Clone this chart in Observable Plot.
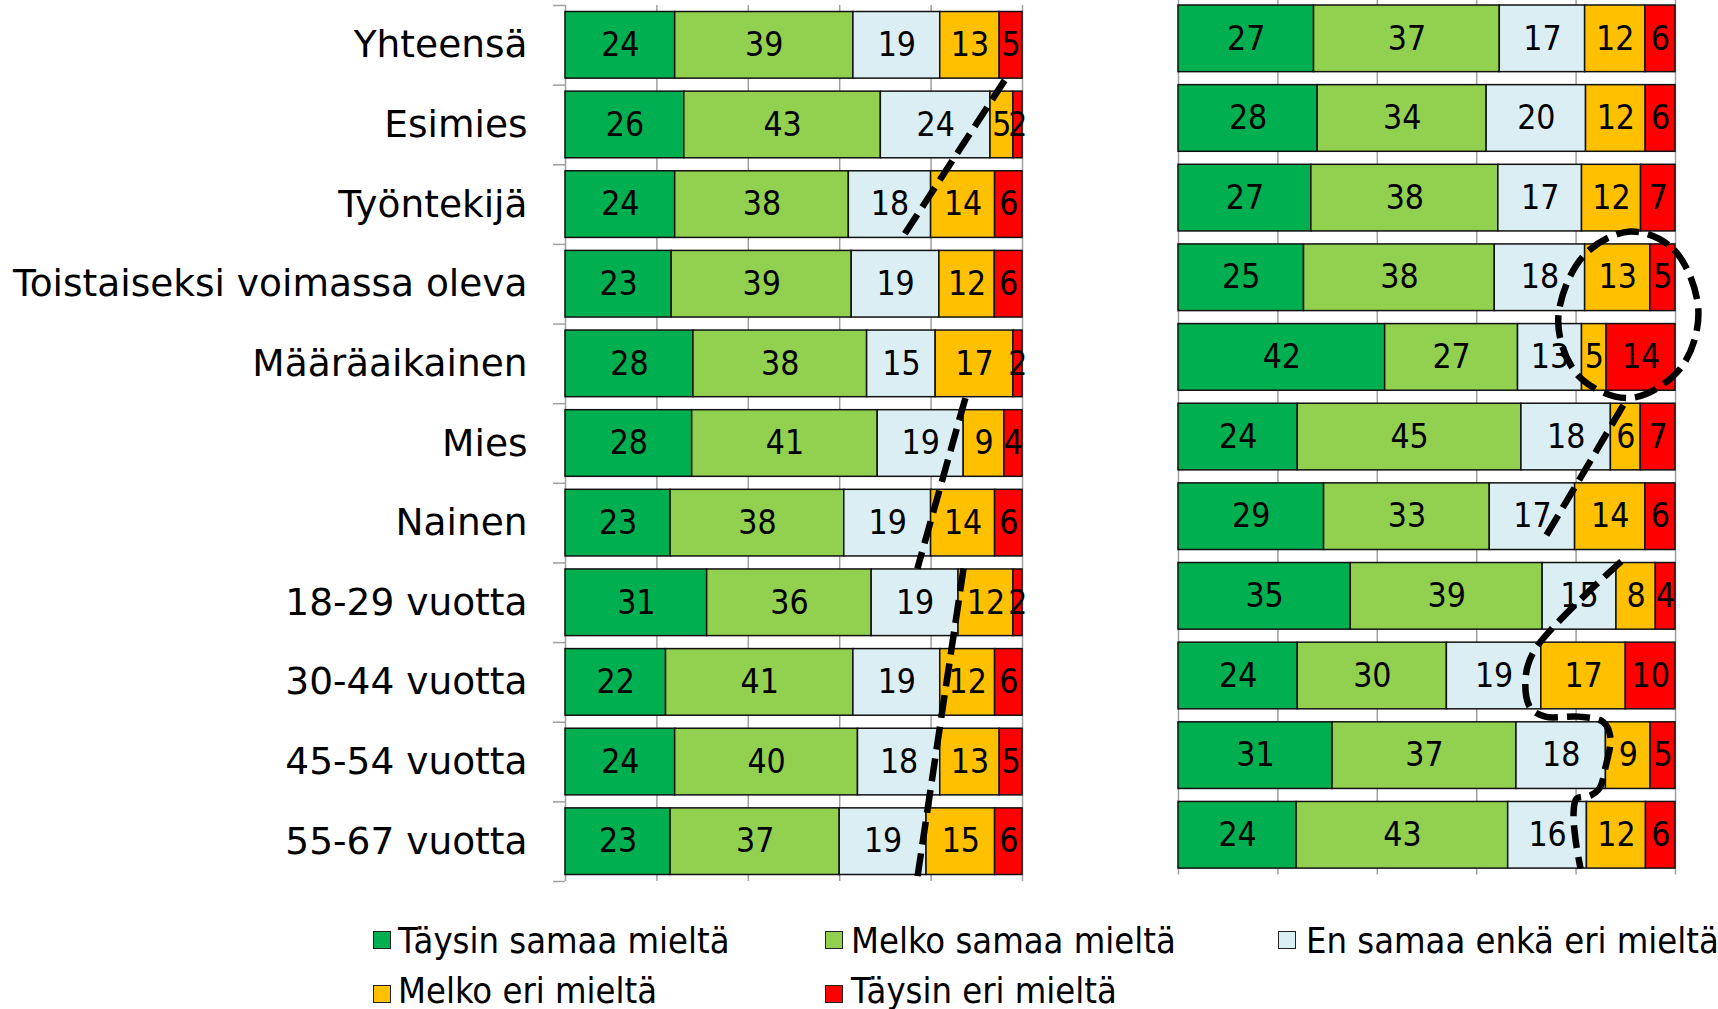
<!DOCTYPE html>
<html>
<head>
<meta charset="utf-8">
<script src="https://cdn.jsdelivr.net/npm/d3@7"></script>
<script src="https://cdn.jsdelivr.net/npm/@observablehq/plot@0.6"></script>
<style>
  html, body { margin: 0; padding: 0; background: #fff; }
  #wrap { position: relative; width: 1718px; height: 1009px; overflow: hidden; background: #fff; font-family: "DejaVu Sans", Verdana, sans-serif; }
  #left, #right { position: absolute; }
  #left { left: 0; top: 0; }
  #right { left: 1100px; top: -10px; }
  .lg-sw { position: absolute; width: 18px; height: 18px; box-sizing: border-box; border: 1.5px solid #222; }
  .lg-tx { position: absolute; font-family: "DejaVu Sans Condensed", "DejaVu Sans", sans-serif; font-stretch: condensed; font-size: 36px; line-height: 30px; color: #000; white-space: nowrap; }
</style>
</head>
<body>
<div id="wrap">
  <div id="left"></div>
  <div id="right"></div>
  <div id="legend"></div>
</div>
<script>
// ---- data ----
const categories = ["Yhteensä", "Esimies", "Työntekijä", "Toistaiseksi voimassa oleva", "Määräaikainen", "Mies", "Nainen", "18-29 vuotta", "30-44 vuotta", "45-54 vuotta", "55-67 vuotta"];
const responses = ["Täysin samaa mieltä", "Melko samaa mieltä", "En samaa enkä eri mieltä", "Melko eri mieltä", "Täysin eri mieltä"];
const colors = ["#00B050", "#92D050", "#DAEEF3", "#FFC000", "#FF0000"];
const xTicks = [0, 20, 40, 60, 80, 100];

const leftValues = [
  [24, 39, 19, 13, 5],
  [26, 43, 24, 5, 2],
  [24, 38, 18, 14, 6],
  [23, 39, 19, 12, 6],
  [28, 38, 15, 17, 2],
  [28, 41, 19, 9, 4],
  [23, 38, 19, 14, 6],
  [31, 36, 19, 12, 2],
  [22, 41, 19, 12, 6],
  [24, 40, 18, 13, 5],
  [23, 37, 19, 15, 6]
];
const rightValues = [
  [27, 37, 17, 12, 6],
  [28, 34, 20, 12, 6],
  [27, 38, 17, 12, 7],
  [25, 38, 18, 13, 5],
  [42, 27, 13, 5, 14],
  [24, 45, 18, 6, 7],
  [29, 33, 17, 14, 6],
  [35, 39, 15, 8, 4],
  [24, 30, 19, 17, 10],
  [31, 37, 18, 9, 5],
  [24, 43, 16, 12, 6]
];

// dashed annotation paths, in data units (x = percent, r = row position)
const leftDashes = [
  {seg: 1, x: 96.1, r: 0.94}, {seg: 1, x: 73.3, r: 2.95},
  {seg: 2, x: 87.5, r: 4.93}, {seg: 2, x: 77.0, r: 7.07},
  {seg: 3, x: 87.1, r: 7.07}, {seg: 3, x: 77.0, r: 10.95}
];
const rightEllipse = [
  {x: 90.9, r: 2.92}, {x: 99.7, r: 3.15}, {x: 104.6, r: 3.91}, {x: 101.1, r: 4.63},
  {x: 90.9, r: 5.01}, {x: 80.6, r: 4.74}, {x: 76.4, r: 4.04}, {x: 81.4, r: 3.23}
];
const rightDashes = [
  {seg: 2, x: 89.5, r: 5.10}, {seg: 2, x: 73.4, r: 6.80}
];
const rightCurve = [
  {x: 89.1, r: 7.06}, {x: 71.6, r: 8.18}, {x: 69.8, r: 8.56}, {x: 70.8, r: 8.90},
  {x: 73.8, r: 9.01}, {x: 80.5, r: 9.01}, {x: 85.5, r: 9.08}, {x: 86.9, r: 9.27},
  {x: 85.9, r: 9.65}, {x: 84.7, r: 9.91}, {x: 82.9, r: 10.0}, {x: 80.1, r: 10.04},
  {x: 79.5, r: 10.21}, {x: 79.9, r: 10.56}, {x: 80.9, r: 10.92}
];

// ---- helpers ----
function table(values) {
  return categories.flatMap((c, i) => responses.map((s, j) => ({row: i, cat: c, resp: s, value: values[i][j]})));
}
const dashStyle = {stroke: "#000", strokeWidth: 6.5, strokeDasharray: "23,9", strokeLinecap: "butt", fill: "none"};
const gridStyle = {stroke: "#a0a0a0", strokeWidth: 1.5, strokeOpacity: 1};

function panelMarks(values) {
  const t = table(values);
  return [
    Plot.ruleX(xTicks, {x: d => d / 100, ...gridStyle}),
    Plot.rectX(t, Plot.stackX({x: "value", y: "row", interval: 1, offset: "normalize", fill: "resp",
      stroke: "#111", strokeWidth: 1.5, insetTop: 6.5, insetBottom: 6.5})),
    Plot.text(t, Plot.stackX({x: "value", y: d => d.row + 0.5, offset: "normalize", text: d => String(d.value),
      fontSize: 33.5, fontFamily: "DejaVu Sans Condensed", fill: "#000"}))
  ];
}

const boundaries = d3.range(0, categories.length + 1);
const centers = d3.range(0, categories.length).map(i => i + 0.5);

const left = Plot.plot({
  width: 1040, height: 890,
  marginLeft: 565, marginRight: 18, marginTop: 5, marginBottom: 9,
  x: {domain: [0, 1], axis: null},
  y: {domain: [0, categories.length], reverse: true, label: null},
  color: {domain: responses, range: colors},
  style: {background: "transparent", overflow: "visible", fontFamily: "DejaVu Sans"},
  marks: [
    ...panelMarks(leftValues),
    Plot.axisY(boundaries, {anchor: "left", tickSize: 12, tickFormat: () => "", stroke: "#a0a0a0", strokeWidth: 1.5, label: null}),
    Plot.axisY(centers, {anchor: "left", tickSize: 0, tickPadding: 38, tickFormat: v => categories[Math.floor(v)], fontSize: 37.5, fontFamily: "DejaVu Sans", fill: "#000", label: null}),
    Plot.line(leftDashes, {x: d => d.x / 100, y: "r", z: "seg", ...dashStyle})
  ]
});
document.getElementById("left").appendChild(left);

const right = Plot.plot({
  width: 618, height: 895,
  marginLeft: 78, marginRight: 43, marginTop: 8.5, marginBottom: 10.4,
  x: {domain: [0, 1], axis: null},
  y: {domain: [0, categories.length], reverse: true, axis: null},
  color: {domain: responses, range: colors},
  style: {background: "transparent", overflow: "visible", fontFamily: "DejaVu Sans"},
  marks: [
    ...panelMarks(rightValues),
    Plot.line(rightEllipse, {x: d => d.x / 100, y: "r", curve: "catmull-rom-closed", ...dashStyle}),
    Plot.line(rightDashes, {x: d => d.x / 100, y: "r", z: "seg", ...dashStyle}),
    Plot.line(rightCurve, {x: d => d.x / 100, y: "r", curve: "catmull-rom", ...dashStyle})
  ]
});
document.getElementById("right").appendChild(right);

// ---- legend ----
const legendLayout = [
  {sx: 373, sy: 931, tx: 398, ty: 925.5},
  {sx: 825, sy: 931, tx: 851, ty: 925.5},
  {sx: 1278, sy: 931, tx: 1306, ty: 925.5},
  {sx: 373, sy: 985, tx: 398, ty: 975.5},
  {sx: 825, sy: 985, tx: 851, ty: 975.5}
];
const lg = document.getElementById("legend");
responses.forEach((r, i) => {
  const p = legendLayout[i];
  const sw = document.createElement("div");
  sw.className = "lg-sw";
  sw.style.left = p.sx + "px"; sw.style.top = p.sy + "px"; sw.style.background = colors[i];
  const tx = document.createElement("div");
  tx.className = "lg-tx";
  tx.style.left = p.tx + "px"; tx.style.top = p.ty + "px";
  tx.textContent = r;
  lg.appendChild(sw); lg.appendChild(tx);
});
</script>
</body>
</html>
